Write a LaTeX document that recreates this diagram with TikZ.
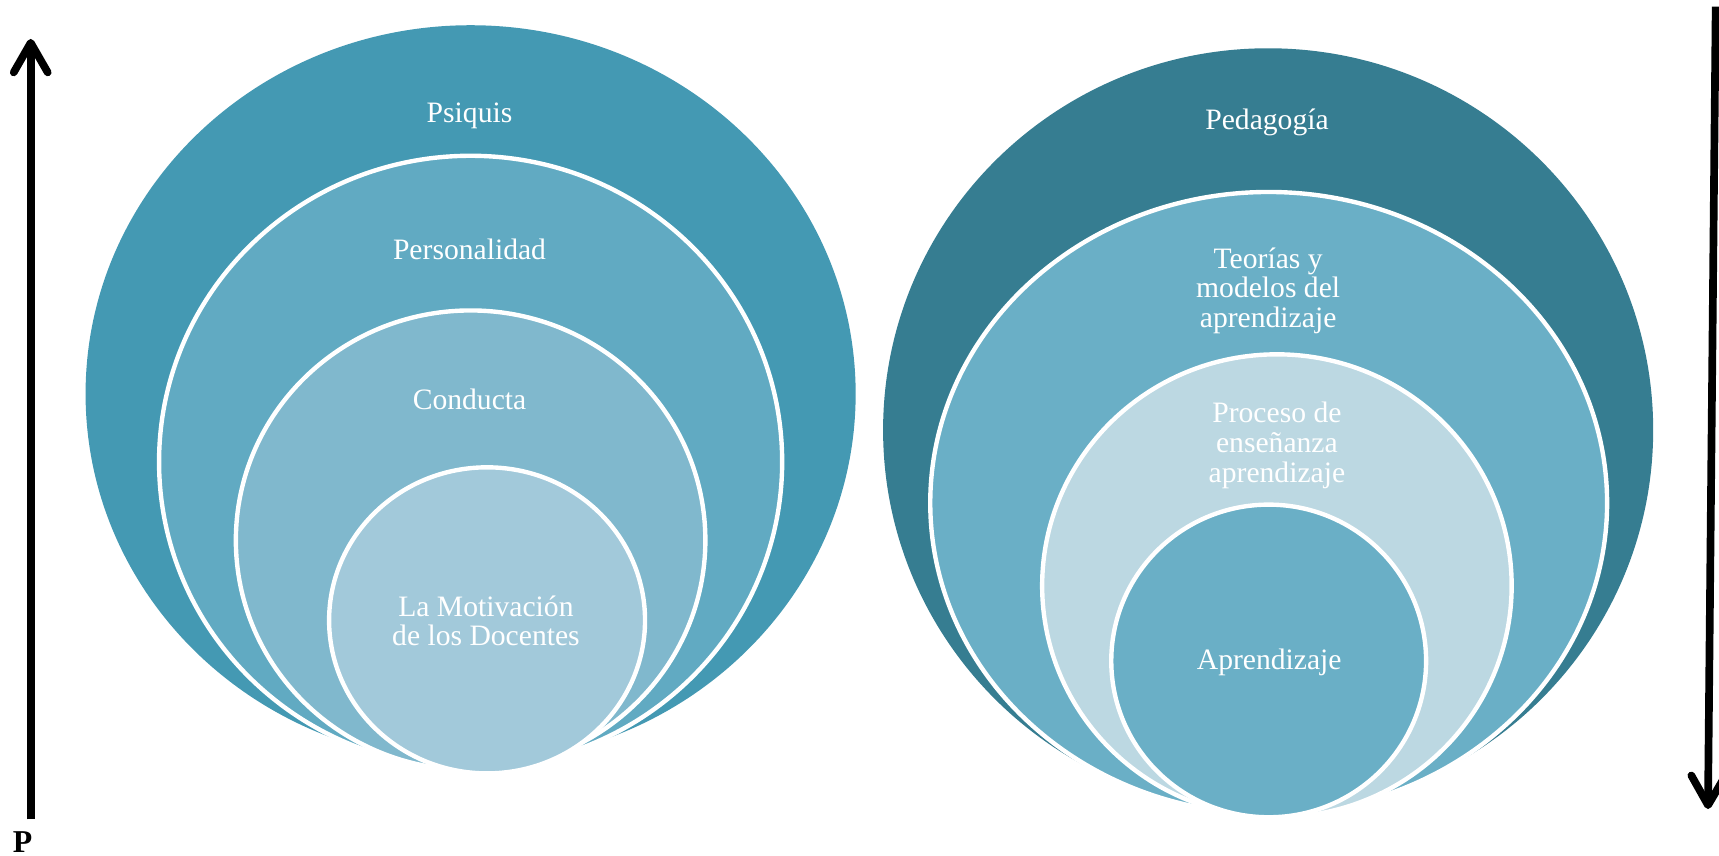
\documentclass[tikz,border=0pt]{standalone}
\usepackage{fontspec}
\setmainfont{Liberation Serif}
\usetikzlibrary{shapes.geometric,calc}
\definecolor{cPsi}{RGB}{68,153,179}
\definecolor{cPer}{RGB}{97,170,194}
\definecolor{cCon}{RGB}{128,184,205}
\definecolor{cMot}{RGB}{162,201,218}
\definecolor{cPed}{RGB}{54,125,145}
\definecolor{cTeo}{RGB}{106,175,198}
\definecolor{cPro}{RGB}{188,216,226}
\tikzset{
  disc/.style={ellipse, draw=white, line width=4pt, inner sep=0pt, outer sep=0pt},
  outerdisc/.style={ellipse, draw=none, inner sep=0pt, outer sep=0pt},
  lbl/.style={text=white, font=\fontsize{27}{27}\selectfont, align=center, inner sep=0pt},
  shaft/.style={line width=7pt, line cap=butt},
  barb/.style={line width=7pt, line cap=round, line join=round},
}
\begin{document}
\begin{tikzpicture}[x=1pt,y=-1pt]
\useasboundingbox (0,0) rectangle (1567,780.3);
% left group
\node[outerdisc, fill=cPsi, minimum width=702pt, minimum height=672pt] (psiquis) at (429,359) {};
\node[disc, fill=cPer, minimum width=568pt, minimum height=558pt] (personalidad) at (429,421) {};
\node[disc, fill=cCon, minimum width=428pt, minimum height=419pt] (conducta) at (429,492.5) {};
\node[disc, fill=cMot, minimum width=288pt, minimum height=279pt] (motivacion) at (444,565.5) {};
\node[lbl, anchor=base] (tPsi) at (428,112) {Psiquis};
\node[lbl, anchor=base] (tPer) at (428,237) {Personalidad};
\node[lbl, anchor=base] (tCon) at (428,373) {Conducta};
\node[lbl] (tMot) at (443,566) {La Motivación\\de los Docentes};
% right group
\node[outerdisc, fill=cPed, minimum width=702pt, minimum height=696pt] (pedagogia) at (1156,392) {};
\node[disc, fill=cTeo, minimum width=617pt, minimum height=567pt] (teorias) at (1156.5,458.5) {};
\node[disc, fill=cPro, minimum width=428pt, minimum height=422pt] (proceso) at (1164,534) {};
\node[disc, fill=cTeo, minimum width=287pt, minimum height=285pt] (aprendizaje) at (1156.5,602.5) {};
\node[lbl, anchor=base] (tPed) at (1155,118.5) {Pedagogía};
\node[lbl] (tTeo) at (1156,265) {Teorías y\\modelos del\\aprendizaje};
\node[lbl] (tPro) at (1164,406) {Proceso de\\enseñanza\\aprendizaje};
\node[lbl, anchor=base] (tApr) at (1157,610) {Aprendizaje};
% left arrow (up)
\coordinate (upBot) at (28,747);
\coordinate (upTop) at (28,39);
\draw[shaft] (upBot) -- ($(upTop)+(0,4)$);
\draw[barb] ($(upTop)+(-15.5,27)$) -- (upTop) -- ($(upTop)+(15.5,27)$);
\node[font=\fontsize{29}{30}\selectfont\bfseries, inner sep=0pt, anchor=base] (pLabel) at (20.5,777) {P};
% right arrow (down)
\coordinate (dnTop) at (1564,6);
\coordinate (dnTip) at (1557,734);
\draw[shaft] (dnTop) -- ($(dnTip)+(0,-4)$);
\draw[barb] (1541.8,706.9) -- (dnTip) -- (1572.8,707.1);
\end{tikzpicture}
\end{document}
